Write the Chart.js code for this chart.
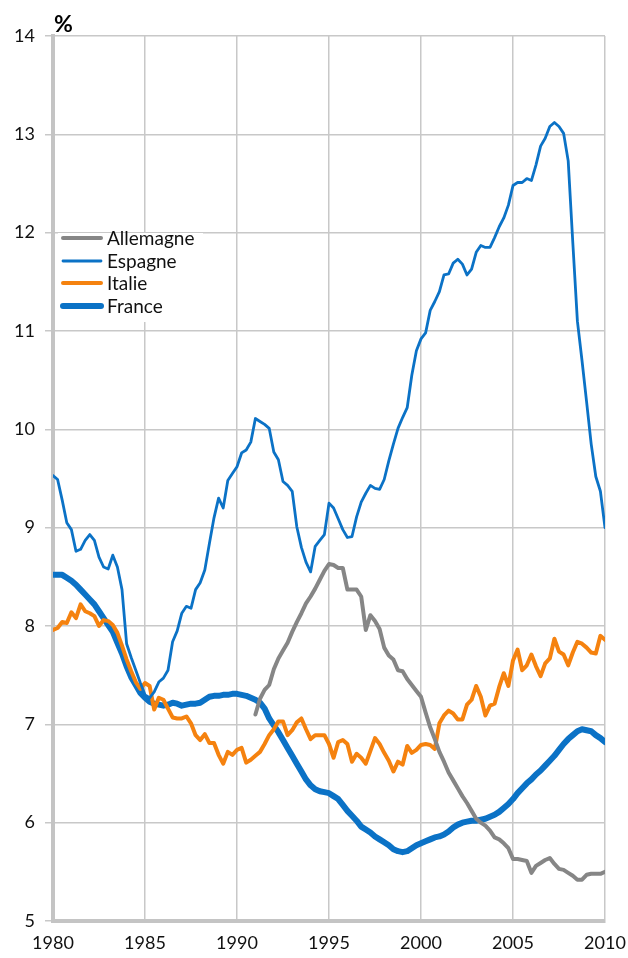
<!DOCTYPE html>
<html>
<head>
<meta charset="utf-8">
<script src="https://cdn.jsdelivr.net/npm/chart.js@4/dist/chart.umd.min.js"></script>
<style>
  html, body { margin: 0; padding: 0; background: #fff; }
  #wrap { width: 628px; height: 958px; }
</style>
</head>
<body>
<div id="wrap"><canvas id="chart" width="628" height="958"></canvas></div>
<script>
// quarterly series, 1980Q1 .. 2010Q1
const quarters = Array.from({ length: 121 }, (_, i) => 1980 + i / 4);

const espagne = [
  9.53, 9.49, 9.28, 9.05, 8.98, 8.76, 8.78, 8.87, 8.93, 8.87, 8.70, 8.60,
  8.58, 8.72, 8.60, 8.37, 7.82, 7.68, 7.55, 7.42, 7.30, 7.27, 7.33, 7.43,
  7.47, 7.55, 7.84, 7.95, 8.13, 8.20, 8.18, 8.37, 8.44, 8.57, 8.84, 9.10,
  9.30, 9.20, 9.48, 9.55, 9.62, 9.76, 9.79, 9.87, 10.11, 10.08, 10.05, 10.01,
  9.77, 9.69, 9.47, 9.43, 9.37, 9.01, 8.80, 8.65, 8.55, 8.81, 8.87, 8.93,
  9.25, 9.20, 9.09, 8.98, 8.90, 8.91, 9.11, 9.26, 9.35, 9.43, 9.40, 9.39,
  9.49, 9.68, 9.85, 10.01, 10.12, 10.22, 10.55, 10.80, 10.92, 10.98, 11.21, 11.30,
  11.40, 11.57, 11.58, 11.69, 11.73, 11.68, 11.57, 11.63, 11.80, 11.87, 11.85, 11.85,
  11.95, 12.06, 12.15, 12.28, 12.48, 12.51, 12.51, 12.55, 12.53, 12.69, 12.88, 12.96,
  13.08, 13.12, 13.08, 13.01, 12.73, 11.90, 11.10, 10.70, 10.28, 9.85, 9.52, 9.37,
  9.00
];

const france = [
  8.52, 8.52, 8.52, 8.49, 8.46, 8.42, 8.37, 8.32, 8.27, 8.22, 8.15, 8.08,
  8.01, 7.94, 7.83, 7.72, 7.59, 7.48, 7.40, 7.32, 7.27, 7.23, 7.21, 7.20,
  7.19, 7.20, 7.22, 7.21, 7.19, 7.20, 7.21, 7.21, 7.22, 7.25, 7.28, 7.29,
  7.29, 7.30, 7.30, 7.31, 7.31, 7.30, 7.29, 7.27, 7.25, 7.22, 7.16, 7.06,
  6.99, 6.92, 6.84, 6.76, 6.68, 6.60, 6.52, 6.44, 6.38, 6.34, 6.32, 6.31,
  6.30, 6.27, 6.24, 6.18, 6.12, 6.07, 6.02, 5.96, 5.93, 5.90, 5.86, 5.83,
  5.80, 5.77, 5.73, 5.71, 5.70, 5.71, 5.74, 5.77, 5.79, 5.81, 5.83, 5.85,
  5.86, 5.88, 5.91, 5.95, 5.98, 6.00, 6.01, 6.02, 6.02, 6.03, 6.04, 6.06,
  6.08, 6.11, 6.15, 6.19, 6.24, 6.30, 6.35, 6.40, 6.44, 6.49, 6.53, 6.58,
  6.63, 6.68, 6.74, 6.80, 6.85, 6.89, 6.93, 6.95, 6.94, 6.93, 6.89, 6.86,
  6.82
];

const italie = [
  7.96, 7.98, 8.04, 8.03, 8.14, 8.08, 8.22, 8.15, 8.13, 8.10, 8.00, 8.06,
  8.05, 8.01, 7.93, 7.80, 7.66, 7.54, 7.43, 7.36, 7.42, 7.39, 7.15, 7.27,
  7.25, 7.16, 7.07, 7.06, 7.06, 7.08, 7.01, 6.89, 6.84, 6.90, 6.81, 6.81,
  6.69, 6.60, 6.72, 6.69, 6.74, 6.76, 6.61, 6.64, 6.68, 6.72, 6.80, 6.89,
  6.95, 7.03, 7.03, 6.89, 6.94, 7.02, 7.06, 6.95, 6.85, 6.89, 6.89, 6.89,
  6.80, 6.66, 6.82, 6.84, 6.80, 6.62, 6.70, 6.66, 6.60, 6.73, 6.86, 6.80,
  6.71, 6.63, 6.52, 6.62, 6.59, 6.78, 6.71, 6.74, 6.79, 6.80, 6.79, 6.75,
  7.01, 7.09, 7.14, 7.11, 7.05, 7.05, 7.20, 7.25, 7.39, 7.28, 7.09, 7.19,
  7.21, 7.38, 7.52, 7.39, 7.65, 7.76, 7.55, 7.60, 7.71, 7.59, 7.49, 7.62,
  7.67, 7.87, 7.74, 7.71, 7.60, 7.73, 7.84, 7.82, 7.78, 7.73, 7.72, 7.90,
  7.86
];

// Allemagne only from 1991Q1
const allemagne = [
  null, null, null, null, null, null, null, null, null, null, null, null,
  null, null, null, null, null, null, null, null, null, null, null, null,
  null, null, null, null, null, null, null, null, null, null, null, null,
  null, null, null, null, null, null, null, null,
  7.10, 7.26, 7.35, 7.40, 7.56, 7.67, 7.75, 7.83, 7.94, 8.04, 8.13, 8.23,
  8.30, 8.38, 8.47, 8.56, 8.63, 8.62, 8.59, 8.59, 8.37, 8.37, 8.37, 8.30,
  7.96, 8.11, 8.05, 7.97, 7.78, 7.70, 7.66, 7.55, 7.54, 7.46, 7.40, 7.34,
  7.28, 7.12, 6.97, 6.85, 6.72, 6.62, 6.51, 6.43, 6.35, 6.27, 6.20, 6.12,
  6.04, 6.00, 5.97, 5.92, 5.85, 5.83, 5.79, 5.74, 5.63, 5.63, 5.62, 5.61,
  5.49, 5.56, 5.59, 5.62, 5.64, 5.58, 5.53, 5.52, 5.49, 5.46, 5.42, 5.42,
  5.47, 5.48, 5.48, 5.48, 5.50
];

const seriesNames = ['Allemagne', 'Espagne', 'Italie', 'France'];
const seriesColors = ['#868686', '#0B72C6', '#F5820F', '#0B72C6'];
const seriesWidths = [4, 2.8, 4, 6];

const FONT = 'Lato, "Open Sans", sans-serif';

function toPoints(values) {
  return values.map((v, i) => ({ x: quarters[i], y: v }));
}

const allSeries = [allemagne, espagne, italie, france];

const datasets = allSeries.map((vals, k) => ({
  label: seriesNames[k],
  data: toPoints(vals),
  borderColor: seriesColors[k],
  backgroundColor: seriesColors[k],
  borderWidth: seriesWidths[k],
  pointRadius: 0,
  tension: 0,
  fill: false,
  spanGaps: false,
  borderJoinStyle: 'round',
  borderCapStyle: 'round'
}));

// legend box + "%" label, drawn on top of the grid
const overlay = {
  id: 'overlay',
  afterDraw(chart) {
    const ctx = chart.ctx;
    ctx.save();
    ctx.fillStyle = '#000';
    ctx.font = 'bold 23px ' + FONT;
    ctx.textBaseline = 'alphabetic';
    ctx.fillText('%', 54, 32);

    ctx.fillStyle = '#fff';
    ctx.fillRect(58, 233, 145, 89);

    const rows = [238, 261, 283, 306];
    ctx.font = '19px ' + FONT;
    ctx.textBaseline = 'middle';
    rows.forEach((y, k) => {
      ctx.strokeStyle = seriesColors[k];
      ctx.lineWidth = seriesWidths[k];
      ctx.lineCap = 'round';
      ctx.beginPath();
      ctx.moveTo(63, y);
      ctx.lineTo(101, y);
      ctx.stroke();
      ctx.fillStyle = '#111';
      ctx.fillText(seriesNames[k], 107, y + 1);
    });
    ctx.restore();
  }
};

new Chart(document.getElementById('chart').getContext('2d'), {
  type: 'line',
  data: { datasets: datasets },
  options: {
    responsive: false,
    animation: false,
    layout: { padding: { top: 36, right: 23, bottom: 0, left: 0 } },
    plugins: {
      legend: { display: false },
      tooltip: { enabled: false }
    },
    scales: {
      x: {
        type: 'linear',
        min: 1980,
        max: 2010,
        afterFit(scale) {
          scale.height = 37;
          scale.paddingLeft = 0;
          scale.paddingRight = 0;
        },
        ticks: {
          stepSize: 5,
          color: '#111',
          padding: 11,
          maxRotation: 0,
          font: { family: FONT, size: 18 },
          callback: v => String(v)
        },
        grid: { color: '#c8c8c8', lineWidth: 1.5, drawTicks: false },
        border: { display: true, color: '#c4c4c4', width: 4 }
      },
      y: {
        min: 5,
        max: 14,
        afterFit(scale) { scale.width = 53; },
        ticks: {
          stepSize: 1,
          color: '#111',
          padding: 10,
          font: { family: FONT, size: 18 }
        },
        grid: { color: '#c8c8c8', lineWidth: 1.5, tickLength: 8 },
        border: { display: true, color: '#c4c4c4', width: 4 }
      }
    }
  },
  plugins: [overlay]
});
</script>
</body>
</html>
